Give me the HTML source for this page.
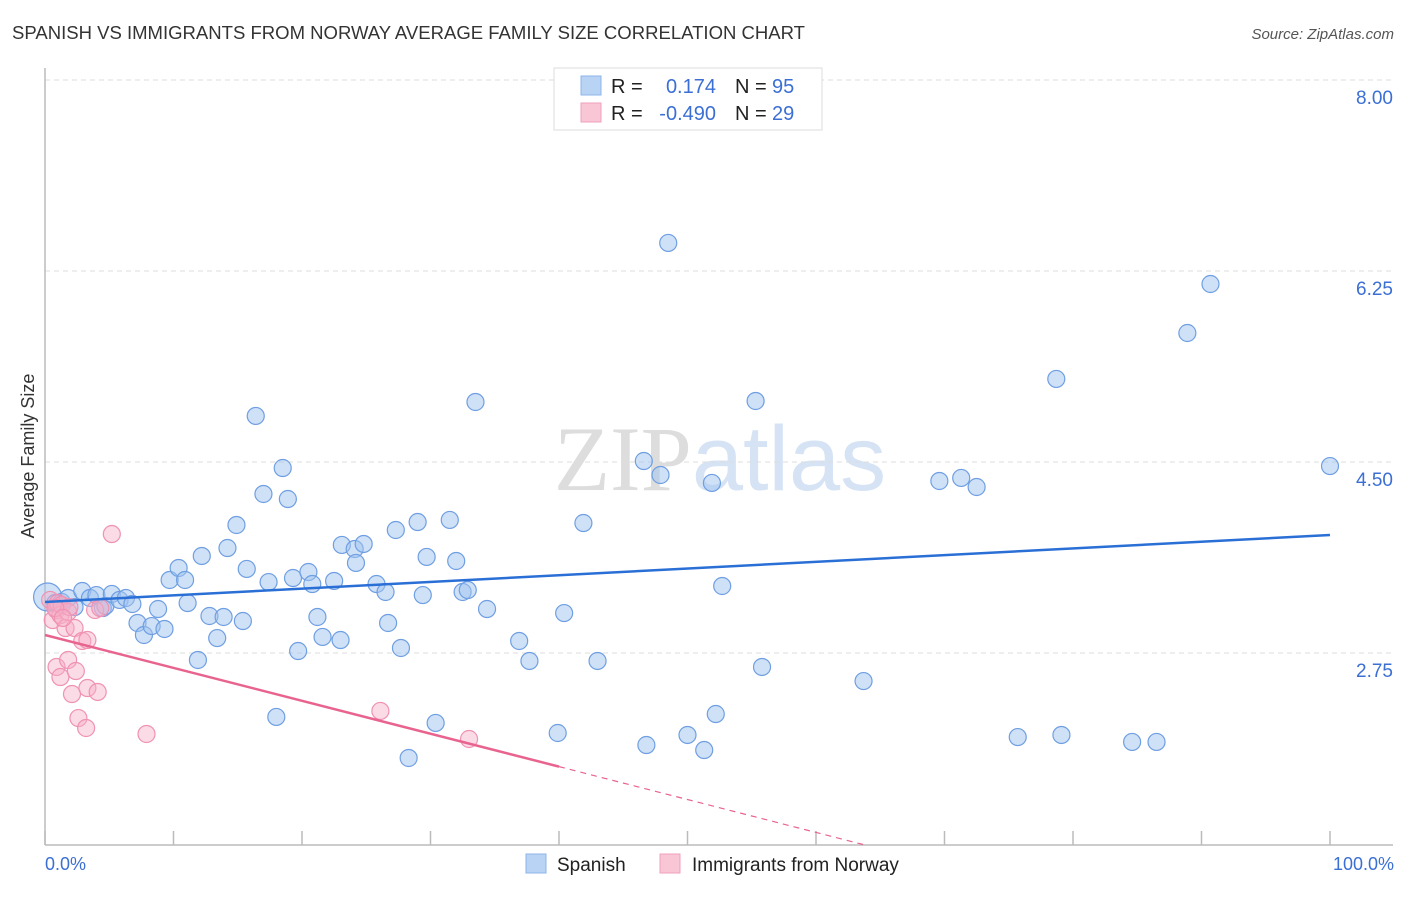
<!DOCTYPE html>
<html><head><meta charset="utf-8"><style>
body{margin:0;background:#fff;font-family:"Liberation Sans",sans-serif}
svg text{font-family:"Liberation Sans",sans-serif}
</style></head><body>
<svg id="chart" width="1406" height="892" viewBox="0 0 1406 892">
<text x="12" y="39" font-size="18" fill="#333" textLength="793" lengthAdjust="spacingAndGlyphs">SPANISH VS IMMIGRANTS FROM NORWAY AVERAGE FAMILY SIZE CORRELATION CHART</text>
<text x="1394" y="39" font-size="15" fill="#555" font-style="italic" text-anchor="end">Source: ZipAtlas.com</text>
<text x="720" y="490" font-size="92" text-anchor="middle"><tspan fill="#ddd" font-family="Liberation Serif">ZIP</tspan><tspan fill="#d5e3f5">atlas</tspan></text>
<g id="grid"></g>
<g id="axes"></g>
<g id="points"></g>
<g id="trends"></g>
<text transform="translate(34,456) rotate(-90)" font-size="18" fill="#333" text-anchor="middle">Average Family Size</text>
<text x="45" y="870" font-size="18" fill="#3b6fd4">0.0%</text>
<text x="1394" y="870" font-size="18" fill="#3b6fd4" text-anchor="end">100.0%</text>
<g>
<rect x="554" y="68" width="268" height="62" fill="#fff" stroke="#ddd"/>
<rect x="581" y="76" width="20" height="19" fill="#b9d3f5" stroke="#8fb4ea"/>
<rect x="581" y="103" width="20" height="19" fill="#f9c6d6" stroke="#f0a0bb"/>
<text x="611" y="93" font-size="20" fill="#222">R =</text>
<text x="716" y="93" font-size="20" fill="#3b6fd4" text-anchor="end">0.174</text>
<text x="735" y="93" font-size="20" fill="#222">N =</text>
<text x="772" y="93" font-size="20" fill="#3b6fd4">95</text>
<text x="611" y="120" font-size="20" fill="#222">R =</text>
<text x="716" y="120" font-size="20" fill="#3b6fd4" text-anchor="end">-0.490</text>
<text x="735" y="120" font-size="20" fill="#222">N =</text>
<text x="772" y="120" font-size="20" fill="#3b6fd4">29</text>
</g>
<g>
<rect x="526" y="854" width="20" height="19" fill="#b9d3f5" stroke="#8fb4ea"/>
<text x="557" y="871" font-size="19" fill="#222">Spanish</text>
<rect x="660" y="854" width="20" height="19" fill="#f9c6d6" stroke="#f0a0bb"/>
<text x="692" y="871" font-size="19" fill="#222">Immigrants from Norway</text>
</g>
</svg>
<script>
const yTicks=[2.75,4.5,6.25,8.0];
const yTickLabels=["2.75","4.50","6.25","8.00"];
const xTicks=[0,10,20,30,40,50,60,70,80,90,100];
const spanishX=[0.2,0.8,1.3,1.8,2.3,2.9,3.5,4.0,4.5,4.7,5.2,5.8,6.3,6.8,7.2,7.7,8.3,8.8,9.3,9.7,10.4,10.9,11.1,11.9,12.2,12.8,13.4,13.9,14.2,14.9,15.4,15.7,16.4,17.0,17.4,18.0,18.5,18.9,19.3,19.7,20.5,20.8,21.2,21.6,22.5,23.0,23.1,24.1,24.2,24.8,25.8,26.5,26.7,27.3,27.7,28.3,29.0,29.4,29.7,30.4,31.5,32.0,32.5,32.9,33.5,34.4,36.9,37.7,39.9,40.4,41.9,43.0,46.6,46.8,47.9,48.5,50.0,51.3,51.9,52.2,52.7,55.3,55.8,63.7,69.6,71.3,72.5,75.7,78.7,79.1,84.6,86.5,88.9,90.7,100];
const spanishY=[3.263,3.208,3.217,3.254,3.171,3.318,3.254,3.281,3.162,3.181,3.291,3.236,3.254,3.199,3.025,2.915,2.997,3.153,2.970,3.419,3.529,3.419,3.208,2.686,3.639,3.089,2.887,3.080,3.712,3.923,3.043,3.520,4.922,4.207,3.400,2.164,4.445,4.161,3.437,2.768,3.492,3.382,3.080,2.897,3.410,2.869,3.740,3.703,3.575,3.749,3.382,3.309,3.025,3.877,2.796,1.788,3.950,3.281,3.630,2.109,3.969,3.593,3.309,3.327,5.050,3.153,2.860,2.677,2.017,3.116,3.941,2.677,4.509,1.907,4.381,6.507,1.999,1.861,4.308,2.191,3.364,5.059,2.622,2.493,4.326,4.354,4.271,1.980,5.261,1.999,1.935,1.935,5.682,6.131,4.463];
const norwayX=[0.4,0.6,0.9,1.0,1.2,1.3,1.6,1.8,1.9,2.3,3.9,4.3,5.2,2.9,3.3,0.9,1.2,1.8,2.4,2.1,3.3,4.1,2.6,3.2,7.9,26.1,33.0,0.8,1.4];
const norwayY=[3.236,3.052,3.144,3.208,3.098,3.190,2.979,3.126,3.171,2.979,3.144,3.162,3.840,2.860,2.869,2.622,2.530,2.686,2.585,2.374,2.429,2.393,2.154,2.063,2.008,2.219,1.962,3.162,3.071];
const spanishTrend=[3.217,3.831];
const norwayTrend=[2.915,-0.10];
const norwaySolidEnd=40;

const NS="http://www.w3.org/2000/svg";
const X0=45,X1=1330,Y0=653,PPU=109.14,YB=845;
const sx=v=>X0+(v/100)*(X1-X0);
const sy=v=>Y0-(v-2.75)*PPU;
function mk(tag,attrs,parent){const e=document.createElementNS(NS,tag);for(const k in attrs)e.setAttribute(k,attrs[k]);document.getElementById(parent).appendChild(e);return e;}

yTicks.forEach((t,i)=>{
  const l=mk('line',{x1:X0,x2:1393,y1:sy(t),y2:sy(t),stroke:'#ddd','stroke-dasharray':'5,4'},'grid');
  
  
  const tx=mk('text',{x:1393,y:sy(t)+24,'font-size':19,fill:'#3b6fd4','text-anchor':'end'},'grid');
  tx.textContent=yTickLabels[i];
  
  
});
const ya=mk('line',{x1:X0,x2:X0,y1:68,y2:YB,stroke:'#bbb','stroke-width':1.5},'axes');


const xa=mk('line',{x1:X0,x2:1393,y1:YB,y2:YB,stroke:'#bbb','stroke-width':1.5},'axes');


xTicks.forEach(t=>{
  const l=mk('line',{x1:sx(t),x2:sx(t),y1:831,y2:YB,stroke:'#bbb','stroke-width':1.5},'axes');
  
  
});
spanishX.forEach((x,i)=>{
  const c=mk('circle',{cx:sx(x),cy:sy(spanishY[i]),r:i===0?14:8.5,fill:'rgba(160,196,240,0.5)',stroke:'#6f9fe2','stroke-width':1.2},'points');
  
  
});
norwayX.forEach((x,i)=>{
  const c=mk('circle',{cx:sx(x),cy:sy(norwayY[i]),r:8.5,fill:'rgba(246,175,200,0.45)',stroke:'#ef92b3','stroke-width':1.2},'points');
  
  
});
const bt=mk('line',{x1:sx(0),y1:sy(spanishTrend[0]),x2:sx(100),y2:sy(spanishTrend[1]),stroke:'#2a6fd6','stroke-width':2.5},'trends');


const pv=x=>norwayTrend[0]+(norwayTrend[1]-norwayTrend[0])*x/100;
const pt=mk('line',{x1:sx(0),y1:sy(pv(0)),x2:sx(norwaySolidEnd),y2:sy(pv(norwaySolidEnd)),stroke:'#e8648f','stroke-width':2.5},'trends');


const yEnd=2.75-(YB-Y0)/PPU;
const xEnd=(yEnd-norwayTrend[0])/(norwayTrend[1]-norwayTrend[0])*100;
const pd=mk('line',{x1:sx(norwaySolidEnd),y1:sy(pv(norwaySolidEnd)),x2:sx(xEnd),y2:sy(yEnd),stroke:'#e8648f','stroke-width':1.2,'stroke-dasharray':'6,5'},'trends');


</script>
</body></html>
